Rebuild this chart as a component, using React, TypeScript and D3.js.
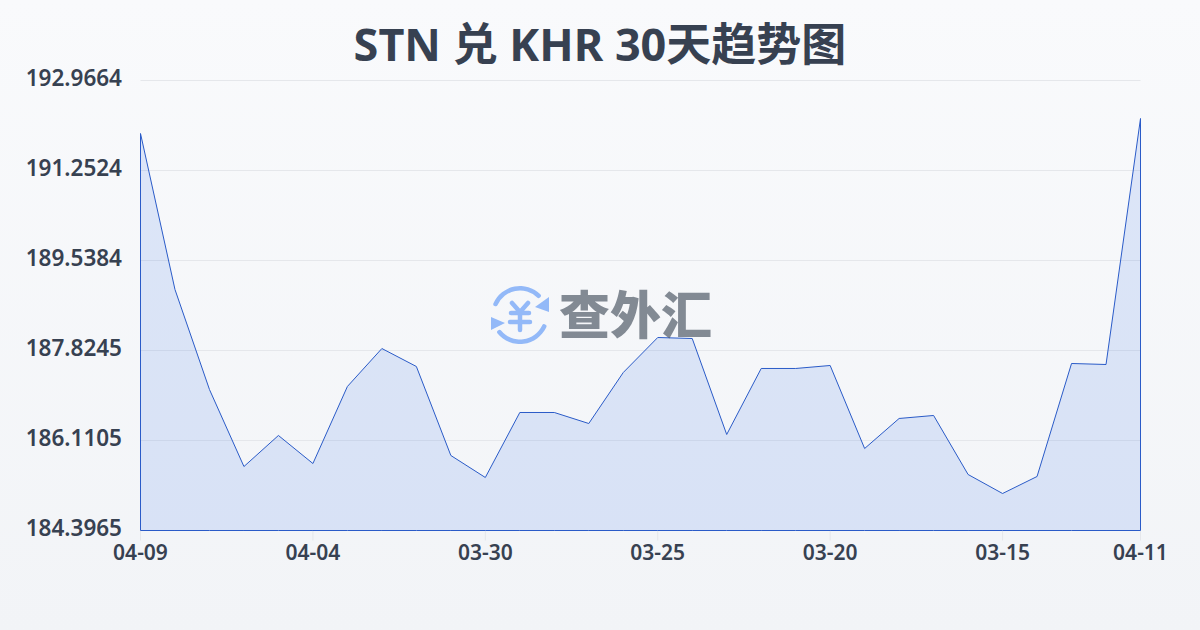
import { useEffect, useRef } from 'react';
import * as d3 from 'd3';

const TITLE = 'STN 兑 KHR 30天趋势图';
const DATES = ['04-09', '04-08', '04-07', '04-06', '04-05', '04-04', '04-03', '04-02', '04-01', '03-31', '03-30', '03-29', '03-28', '03-27', '03-26', '03-25', '03-24', '03-23', '03-22', '03-21', '03-20', '03-19', '03-18', '03-17', '03-16', '03-15', '03-14', '03-13', '03-12', '04-11'];
const RATES = [191.957, 188.986, 187.082, 185.615, 186.206, 185.672, 187.139, 187.862, 187.52, 185.825, 185.406, 186.644, 186.644, 186.434, 187.405, 188.072, 188.053, 186.225, 187.482, 187.482, 187.539, 185.958, 186.53, 186.587, 185.463, 185.101, 185.425, 187.577, 187.558, 192.243];
const Y_TICKS = [192.9664, 191.2524, 189.5384, 187.8245, 186.1105, 184.3965];
const X_TICKS = ['04-09', '04-04', '03-30', '03-25', '03-20', '03-15', '04-11'];

const FONT = "'Noto Sans', 'Noto Sans CJK SC', sans-serif";
const W = 1200;
const H = 630;
const margin = { top: 80.5, right: 59.5, bottom: 99.5, left: 140.5 };

export default function App() {
  const svgRef = useRef<SVGSVGElement>(null);

  useEffect(() => {
    const el = svgRef.current;
    if (!el) return;
    const svg = d3.select(el);
    svg.selectAll('*').remove();

    const defs = svg.append('defs');
    const bg = defs.append('linearGradient').attr('id', 'bg').attr('x1', 0).attr('x2', 0).attr('y1', 0).attr('y2', 1);
    bg.append('stop').attr('offset', '0%').attr('stop-color', '#f9fafc');
    bg.append('stop').attr('offset', '100%').attr('stop-color', '#f2f4f7');

    svg.append('rect').attr('width', W).attr('height', H).attr('fill', 'url(#bg)');

    const x = d3.scalePoint<number>().domain(d3.range(DATES.length)).range([margin.left, W - margin.right]);
    const y = d3.scaleLinear().domain([Y_TICKS[Y_TICKS.length - 1], Y_TICKS[0]]).range([H - margin.bottom, margin.top]);

    // title
    svg.append('text')
      .attr('x', W / 2).attr('y', 61)
      .attr('text-anchor', 'middle')
      .attr('font-family', FONT).attr('font-size', 45).attr('font-weight', 700)
      .attr('fill', '#374151')
      .text(TITLE);

    // grid
    svg.append('g').selectAll('line').data(Y_TICKS).join('line')
      .attr('x1', margin.left).attr('x2', W - margin.right)
      .attr('y1', (d) => y(d)).attr('y2', (d) => y(d))
      .attr('stroke', '#e5e7eb').attr('stroke-width', 1);

    // y labels
    svg.append('g').selectAll('text').data(Y_TICKS).join('text')
      .attr('x', 122).attr('y', (d) => y(d) + 5.5)
      .attr('text-anchor', 'end')
      .attr('font-family', FONT).attr('font-size', 22.5).attr('font-weight', 600)
      .attr('fill', '#374151')
      .text((d) => d.toFixed(4));

    // x ticks
    const xTickIdx = X_TICKS.map((t) => DATES.indexOf(t));
    svg.append('g').selectAll('line').data(xTickIdx).join('line')
      .attr('x1', (d) => x(d)!).attr('x2', (d) => x(d)!)
      .attr('y1', H - margin.bottom).attr('y2', H - margin.bottom + 10)
      .attr('stroke', '#e5e7eb').attr('stroke-width', 1);
    svg.append('g').selectAll('text').data(xTickIdx).join('text')
      .attr('x', (d) => x(d)!).attr('y', 560)
      .attr('text-anchor', 'middle')
      .attr('font-family', FONT).attr('font-size', 21).attr('font-weight', 600)
      .attr('fill', '#374151')
      .text((d) => DATES[d]);

    // area + outline, closed down to the baseline
    const area = d3.area<number>()
      .x((_, i) => x(i)!)
      .y0(H - margin.bottom)
      .y1((d) => y(d));
    svg.append('path')
      .attr('d', area(RATES)!)
      .attr('fill', '#2563eb').attr('fill-opacity', 0.13)
      .attr('stroke', '#2a5bc8').attr('stroke-width', 1);

    // watermark logo
    const logo = svg.append('g').attr('transform', 'translate(520,315)');
    const arc = d3.arc<any>().innerRadius(24.5).outerRadius(29).cornerRadius(2);
    logo.append('path').attr('d', arc({ startAngle: -1.23, endAngle: 0.85 })!).attr('fill', '#93b9f8');
    logo.append('path').attr('d', arc({ startAngle: 1.93, endAngle: 4.1 })!).attr('fill', '#93b9f8');
    logo.append('path').attr('d', 'M29 -18 L29 -3 L15 -8 Z').attr('fill', '#93b9f8');
    logo.append('path').attr('d', 'M-29 2 L-29 15 L-15 8 Z').attr('fill', '#93b9f8');
    logo.append('path')
      .attr('d', 'M-8 -12 L0 -3 L8 -12 M-9 -2 H9 M-10 7 H10 M0 -3 V15')
      .attr('fill', 'none').attr('stroke', '#93b9f8').attr('stroke-width', 4.5).attr('stroke-linecap', 'round').attr('stroke-linejoin', 'round');
    svg.append('text')
      .attr('x', 559).attr('y', 334)
      .attr('font-family', "'Noto Sans CJK SC', sans-serif").attr('font-size', 51).attr('font-weight', 900)
      .attr('fill', '#4b5563').attr('fill-opacity', 0.68)
      .text('查外汇');
  }, []);

  return <svg ref={svgRef} width={W} height={H} style={{ position: 'fixed', left: 0, top: 0, display: 'block' }} />;
}
